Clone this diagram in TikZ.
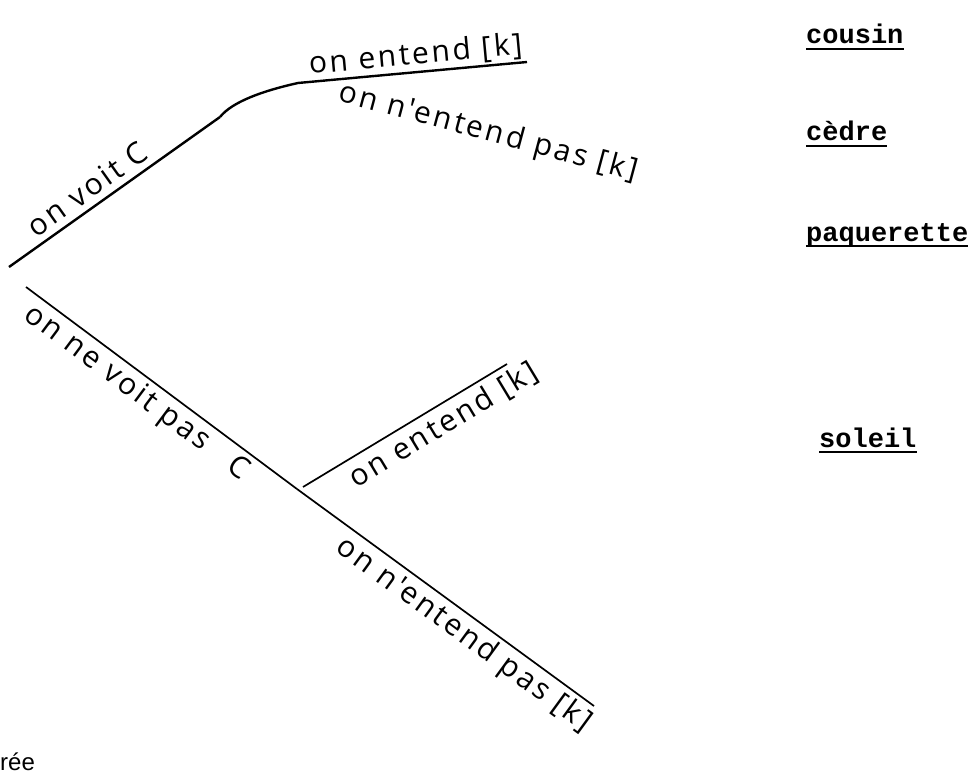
\documentclass[tikz,border=0pt]{standalone}
\usepackage{fontspec}
\usepackage{tikz}
\setmainfont{Open Sans}
\newfontfamily\handfont[LetterSpace=9]{Open Sans}
\newfontfamily\typewriter{Liberation Mono}
\newfontfamily\typed{Liberation Sans}

\tikzset{
  hand/.style={font=\handfont\fontsize{30}{30}\selectfont, inner sep=2pt},
  word/.style={font=\typewriter\bfseries\fontsize{27}{27}\selectfont, inner sep=0pt, anchor=base west},
  branch/.style={line width=1.7pt},
  thickbranch/.style={line width=2.4pt},
}

\begin{document}
\begin{tikzpicture}[x=1pt, y=-1pt]
\useasboundingbox (0,0) rectangle (973,770);

% tree
\coordinate (root) at (9,267);
\coordinate (root2) at (26,287);
\coordinate (seen) at (220,117);
\coordinate (bend) at (298,83);
\coordinate (heard) at (527,62);
\coordinate (unseen) at (297,489);
\coordinate (unseen2) at (303,487);
\coordinate (heard2) at (507,364);
\coordinate (notheard2) at (594,706);

\draw[thickbranch] (root) -- (seen) node[pos=0.42, sloped, above=4pt, hand] {on voit C};
\draw[thickbranch] (seen) .. controls (232,102) and (262,91) .. (bend) -- (heard)
    node[pos=0.52, sloped, above, hand] {on entend [k]};
\node[hand, rotate=-15] (notheard) at (488,133) {on n'entend pas [k]};

\draw[branch] (root2) -- (unseen) node[pos=0.45, sloped, below=2pt, hand] {on ne voit pas\hspace{30pt}C};
\draw[branch] (unseen2) -- (heard2) node[pos=0.64, sloped, below=3pt, hand] {on entend [k]};
\draw[branch] (unseen) -- (notheard2) node[pos=0.6, sloped, below=2pt, hand] {on n'entend pas [k]};

% typed words
\node[word] (cousin) at (806,44) {cousin};
\node[word] (cedre) at (806,141) {cèdre};
\node[word] (paquerette) at (806,241) {paquerette};
\node[word] (soleil) at (819,447) {soleil};
\foreach \w in {cousin,cedre,paquerette,soleil}
  \draw[line width=2pt] ([yshift=-5pt]\w.base west) -- ([yshift=-5pt]\w.base east);

\node[font=\typed\fontsize{24}{24}\selectfont, anchor=base west, inner sep=0pt] (ree) at (0,770) {rée};
\end{tikzpicture}
\end{document}
